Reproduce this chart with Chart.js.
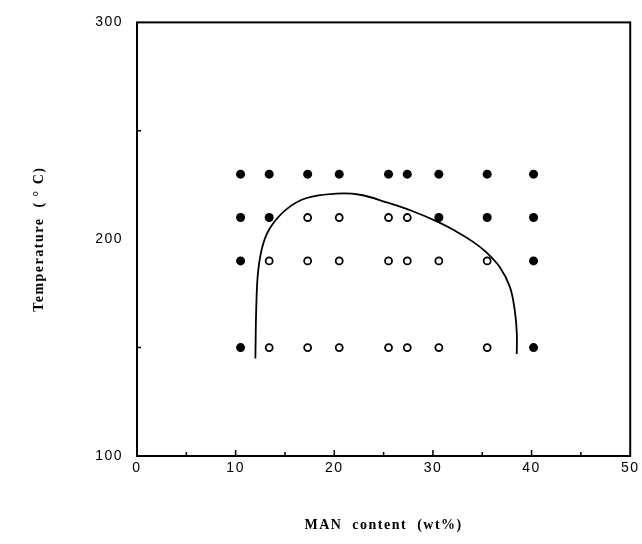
<!DOCTYPE html>
<html>
<head>
<meta charset="utf-8">
<script src="https://cdn.jsdelivr.net/npm/chart.js@4/dist/chart.umd.min.js"></script>
<style>
  html, body { margin: 0; padding: 0; background: #fff; }
  #wrap { width: 642px; height: 544px; }
</style>
</head>
<body>
<div id="wrap"><canvas id="phaseChart"></canvas></div>
<script>
// MAN content columns (wt%) and temperature rows (C)
const manContent = [10.5, 13.4, 17.3, 20.5, 25.5, 27.4, 30.6, 35.5, 40.2];
const tempRows = [230, 210, 190, 150];
// 1 = filled (one phase), 0 = open (two phase), one array per row
const state230 = [1, 1, 1, 1, 1, 1, 1, 1, 1];
const state210 = [1, 1, 0, 0, 0, 0, 1, 1, 1];
const state190 = [1, 0, 0, 0, 0, 0, 0, 0, 1];
const state150 = [1, 0, 0, 0, 0, 0, 0, 0, 1];
const rowStates = [state230, state210, state190, state150];

// boundary curve
const curveX = [12.0, 12.1, 12.3, 12.8, 13.6, 15.2, 17.2, 20.2, 22.6, 25.3, 27.9, 30.5, 32.2, 34.0, 35.4, 36.8, 37.8, 38.3, 38.5, 38.5];
const curveT = [145, 170, 186, 198, 206, 214, 219, 221, 220.5, 217, 213, 208, 204, 199, 194, 187, 178, 167, 157, 147];

const xTicks = [0, 10, 20, 30, 40, 50];
const yTicks = [100, 200, 300];

const filledPts = [];
const openPts = [];
rowStates.forEach((row, r) => {
    row.forEach((s, c) => {
        const p = { x: manContent[c], y: tempRows[r] };
        if (s) filledPts.push(p); else openPts.push(p);
    });
});
const curvePts = curveX.map((x, i) => ({ x: x, y: curveT[i] }));

const frame = {
    id: 'frame',
    beforeDraw(chart) {
        chart.ctx.letterSpacing = '1.5px';
    },
    afterDraw(chart) {
        const ctx = chart.ctx;
        const a = chart.chartArea;
        const xs = chart.scales.x, ys = chart.scales.y;
        ctx.save();
        ctx.strokeStyle = '#000';
        ctx.lineWidth = 2;
        ctx.strokeRect(a.left, a.top, a.right - a.left, a.bottom - a.top);
        ctx.lineWidth = 1.5;
        ctx.beginPath();
        for (let v = 5; v < 50; v += 5) {
            const px = xs.getPixelForValue(v);
            const len = v % 10 === 0 ? 6 : 4;
            ctx.moveTo(px, a.bottom);
            ctx.lineTo(px, a.bottom - len);
        }
        [150, 250].forEach(v => {
            const py = ys.getPixelForValue(v);
            ctx.moveTo(a.left, py);
            ctx.lineTo(a.left + 4, py);
        });
        ctx.stroke();
        ctx.restore();
    }
};

const ctx = document.getElementById('phaseChart').getContext('2d');
new Chart(ctx, {
    type: 'scatter',
    data: {
        datasets: [
            {
                label: 'boundary',
                data: curvePts,
                showLine: true,
                borderColor: '#000',
                borderWidth: 1.8,
                pointRadius: 0,
                tension: 0.4,
                fill: false
            },
            {
                label: 'one phase',
                data: filledPts,
                pointRadius: 4.5,
                pointBackgroundColor: '#000',
                pointBorderColor: '#000',
                pointBorderWidth: 0
            },
            {
                label: 'two phase',
                data: openPts,
                pointRadius: 3.5,
                pointBackgroundColor: '#fff',
                pointBorderColor: '#000',
                pointBorderWidth: 1.8
            }
        ]
    },
    options: {
        responsive: true,
        maintainAspectRatio: false,
        animation: false,
        layout: { padding: { top: 20, right: 11, bottom: 10, left: 0 } },
        plugins: {
            legend: { display: false },
            tooltip: { enabled: false }
        },
        scales: {
            x: {
                type: 'linear',
                min: 0,
                max: 50,
                afterBuildTicks: s => { s.ticks = xTicks.map(v => ({ value: v })); },
                afterFit: s => { s.height = 78; },
                grid: { display: false, drawTicks: false },
                border: { display: false },
                ticks: {
                    color: '#000',
                    padding: 4,
                    font: { family: 'Liberation Sans', size: 14 }
                },
                title: {
                    display: true,
                    text: 'MAN  content  (wt%)',
                    color: '#000',
                    padding: { top: 0, bottom: 0 },
                    font: { family: 'Liberation Serif', size: 14, weight: 'bold' }
                }
            },
            y: {
                type: 'linear',
                min: 100,
                max: 300,
                afterBuildTicks: s => { s.ticks = yTicks.map(v => ({ value: v })); },
                afterFit: s => { s.width = 137; },
                grid: { display: false, drawTicks: false },
                border: { display: false },
                ticks: {
                    color: '#000',
                    padding: 14,
                    font: { family: 'Liberation Sans', size: 14 }
                },
                title: {
                    display: true,
                    text: 'Temperature  ( \u00B0 C)',
                    color: '#000',
                    padding: { top: 31, bottom: 0 },
                    font: { family: 'Liberation Serif', size: 14, weight: 'bold' }
                }
            }
        }
    },
    plugins: [frame]
});
</script>
</body>
</html>
